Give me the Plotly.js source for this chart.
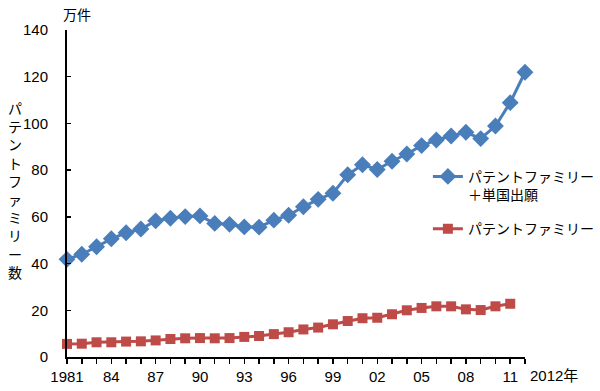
<!DOCTYPE html>
<html>
<head>
<meta charset="utf-8">
<script src="https://cdn.plot.ly/plotly-3.0.1.min.js"></script>
<style>html,body{margin:0;padding:0;background:#fff;}#chart{width:600px;height:391px;}</style>
</head>
<body>
<div id="chart"></div>
<script>
const years = [1981,1982,1983,1984,1985,1986,1987,1988,1989,1990,1991,1992,1993,1994,1995,1996,1997,1998,1999,2000,2001,2002,2003,2004,2005,2006,2007,2008,2009,2010,2011,2012];
const familyPlusSingle = [41.8,44.0,47.2,50.6,53.2,54.8,58.3,59.4,60.1,60.4,57.2,56.8,55.7,55.6,58.6,60.7,64.3,67.5,70.1,78.0,82.3,80.3,83.8,86.9,90.5,92.9,94.6,96.2,93.5,98.9,108.9,121.9];
const familyYears = years.slice(0, 31);
const family = [5.6,5.7,6.3,6.3,6.6,6.7,7.1,7.7,8.0,8.1,8.0,8.1,8.6,9.0,9.8,10.6,11.8,12.6,14.0,15.4,16.6,16.8,18.3,20.0,21.0,21.7,21.7,20.4,20.1,21.7,22.8];
const tickYears = years;
const tickLabels = ['1981','','','84','','','87','','','90','','','93','','','96','','','99','','','02','','','05','','','08','','','11',''];
const seriesNames = ['パテントファミリー<br>＋単国出願', 'パテントファミリー'];

const FONT = 'Liberation Sans, Arial, "Noto Sans CJK JP", sans-serif';
const JFONT = '"Noto Sans CJK JP", "Liberation Sans", sans-serif';

const traces = [
  {x: years, y: familyPlusSingle, name: seriesNames[0], legendgroup: 'a', type: 'scatter', mode: 'lines+markers', cliponaxis: false,
   line: {color: '#4a7ebb', width: 3}, marker: {symbol: 'diamond', size: 13, color: '#4a7ebb'}},
  {x: familyYears, y: family, name: seriesNames[1], legendgroup: 'b', type: 'scatter', mode: 'lines+markers', cliponaxis: false,
   line: {color: '#be4b48', width: 3}, marker: {symbol: 'square', size: 10, color: '#be4b48'}}
];

const layout = {
  width: 600, height: 391,
  margin: {l: 67, r: 75, t: 30, b: 34, autoexpand: false},
  paper_bgcolor: '#fff', plot_bgcolor: 'rgba(0,0,0,0)',
  font: {family: FONT, size: 15, color: '#000'},
  showlegend: true,
  legend: {x: 0.788, y: 0.60, xanchor: 'left', yanchor: 'top', bgcolor: 'rgba(0,0,0,0)',
           font: {family: JFONT, size: 14, color: '#000'}, valign: 'top', tracegroupgap: 13},
  xaxis: {range: [1981, 2012], tickmode: 'array', tickvals: tickYears, ticktext: tickLabels,
          ticks: 'outside', ticklen: 5, tickwidth: 1.5, tickcolor: '#000', showline: true, linecolor: '#000', linewidth: 2,
          showgrid: false, zeroline: false, tickfont: {family: FONT, size: 15, color: '#000'}, fixedrange: true},
  yaxis: {range: [0, 140], dtick: 20, tick0: 0, ticks: 'inside', ticklen: 4, tickwidth: 1.5, tickcolor: '#000',
          showline: true, linecolor: '#000', linewidth: 2, showgrid: false, zeroline: false, ticklabelstandoff: 14,
          tickfont: {family: FONT, size: 15, color: '#000'}, fixedrange: true},
  annotations: [
    {text: '万件', xref: 'paper', yref: 'paper', x: 0.022, y: 1.0, yshift: 16, xanchor: 'center', yanchor: 'middle', showarrow: false,
     font: {family: JFONT, size: 14, color: '#000'}},
    {text: '2012年', xref: 'paper', yref: 'paper', x: 1.0, y: 0, xshift: 3, yshift: -18, xanchor: 'left', yanchor: 'middle', showarrow: false,
     font: {family: FONT, size: 15, color: '#000'}},
    {text: 'パ<br>テ<br>ン<br>ト<br>フ<br>ァ<br>ミ<br>リ<br>ー<br>数', xref: 'paper', yref: 'paper', x: 0, xshift: -52, y: 0.51,
     xanchor: 'center', yanchor: 'middle', showarrow: false, align: 'center',
     font: {family: JFONT, size: 14, color: '#000'}}
  ]
};

Plotly.newPlot('chart', traces, layout, {displayModeBar: false, staticPlot: true});
</script>
</body>
</html>
